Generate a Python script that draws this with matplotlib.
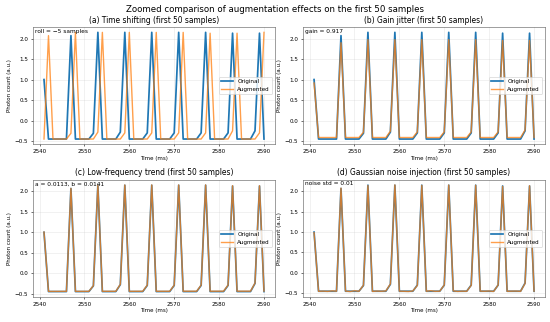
import matplotlib
matplotlib.use("Agg")
import matplotlib.pyplot as plt

time_ms = list(range(2541, 2591))

original = [1.00, -0.45, -0.45, -0.45, -0.45, -0.45, 2.07,
            -0.45, -0.45, -0.45, -0.45, -0.31, 2.15,
            -0.45, -0.45, -0.45, -0.45, -0.28, 2.15,
            -0.45, -0.45, -0.45, -0.45, -0.30, 2.15,
            -0.45, -0.45, -0.45, -0.45, -0.30, 2.15,
            -0.45, -0.45, -0.45, -0.45, -0.30, 2.15,
            -0.45, -0.45, -0.45, -0.45, -0.30, 2.13,
            -0.45, -0.45, -0.45, -0.45, -0.25, 2.13, -0.45]

shifted = [-0.45, 2.07, -0.45, -0.45, -0.45, -0.45, -0.31, 2.15,
           -0.45, -0.45, -0.45, -0.45, -0.28, 2.15,
           -0.45, -0.45, -0.45, -0.45, -0.30, 2.15,
           -0.45, -0.45, -0.45, -0.45, -0.30, 2.15,
           -0.45, -0.45, -0.45, -0.45, -0.30, 2.15,
           -0.45, -0.45, -0.45, -0.45, -0.30, 2.13,
           -0.45, -0.45, -0.45, -0.45, -0.25, 2.13,
           -0.45, -0.45, -0.45, -0.45, -0.30, 2.15]

gain_aug = [0.917, -0.413, -0.413, -0.413, -0.413, -0.413, 1.898,
            -0.413, -0.413, -0.413, -0.413, -0.284, 1.972,
            -0.413, -0.413, -0.413, -0.413, -0.257, 1.972,
            -0.413, -0.413, -0.413, -0.413, -0.275, 1.972,
            -0.413, -0.413, -0.413, -0.413, -0.275, 1.972,
            -0.413, -0.413, -0.413, -0.413, -0.275, 1.972,
            -0.413, -0.413, -0.413, -0.413, -0.275, 1.953,
            -0.413, -0.413, -0.413, -0.413, -0.229, 1.953, -0.413]

trend_aug = [1.004, -0.446, -0.446, -0.446, -0.445, -0.445, 2.074,
             -0.445, -0.445, -0.445, -0.445, -0.305, 2.155,
             -0.444, -0.444, -0.444, -0.444, -0.274, 2.156,
             -0.444, -0.444, -0.443, -0.443, -0.293, 2.157,
             -0.443, -0.443, -0.443, -0.443, -0.293, 2.157,
             -0.442, -0.442, -0.442, -0.442, -0.292, 2.158,
             -0.442, -0.442, -0.441, -0.441, -0.291, 2.139,
             -0.441, -0.441, -0.441, -0.441, -0.241, 2.139, -0.440]

noise_aug = [0.985, -0.452, -0.447, -0.455, -0.441, -0.449, 2.078,
             -0.446, -0.458, -0.439, -0.452, -0.302, 2.143,
             -0.455, -0.446, -0.451, -0.443, -0.272, 2.157,
             -0.448, -0.452, -0.457, -0.444, -0.309, 2.146,
             -0.451, -0.437, -0.453, -0.449, -0.296, 2.154,
             -0.443, -0.455, -0.448, -0.452, -0.305, 2.149,
             -0.447, -0.451, -0.444, -0.456, -0.294, 2.121,
             -0.452, -0.448, -0.446, -0.453, -0.258, 2.137, -0.449]

titles = ["(a) Time shifting (first 50 samples)",
          "(b) Gain jitter (first 50 samples)",
          "(c) Low-frequency trend (first 50 samples)",
          "(d) Gaussian noise injection (first 50 samples)"]
notes = ["roll = \u22125 samples", "gain = 0.917",
         "a = 0.0113, b = 0.0141", "noise std = 0.01"]
augmented = [shifted, gain_aug, trend_aug, noise_aug]

fig, axes = plt.subplots(2, 2, figsize=(11, 6.44), dpi=50)
fig.subplots_adjust(left=0.06, right=0.991, top=0.916, bottom=0.078,
                    wspace=0.116, hspace=0.30)
fig.suptitle("Zoomed comparison of augmentation effects on the first 50 samples",
             fontsize=12.5, y=0.985)

for ax, title, note, aug in zip(axes.flat, titles, notes, augmented):
    ax.plot(time_ms, original, color="#1f77b4", lw=2.5, label="Original")
    ax.plot(time_ms, aug, color="#ff7f0e", lw=2.0, alpha=0.75, label="Augmented")
    ax.set_title(title, fontsize=10.8)
    ax.set_xlabel("Time (ms)", fontsize=8, labelpad=2)
    ax.set_ylabel("Photon count (a.u.)", fontsize=8)
    ax.tick_params(labelsize=8.2)
    ax.grid(True, alpha=0.3)
    ax.legend(loc="center right", fontsize=8.2)
    ax.text(0.01, 0.985, note, transform=ax.transAxes, va="top", ha="left",
            fontsize=8.5)
    for s in ax.spines.values():
        s.set_color("#555555")

fig.savefig("out.png", dpi=50)
